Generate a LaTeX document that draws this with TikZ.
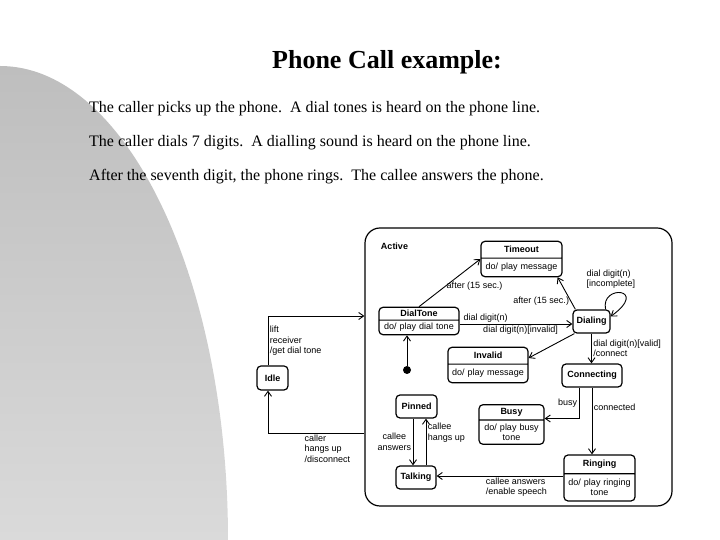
\documentclass[tikz,border=0pt]{standalone}
\usepackage{fontspec}
\setmainfont{Liberation Serif}
\newfontfamily\diagfont{Liberation Sans}
\usepackage{xcolor}
\usepackage{tikz}
\usetikzlibrary{arrows.meta,positioning,shapes.multipart,calc}
\definecolor{SlideGrey} {RGB}{190,190,190}
\definecolor{SlideLight}{RGB}{218,218,218}
\newcommand{\dfont}{\diagfont\fontsize{9}{10.5}\selectfont}
\tikzset{
  statebox/.style={draw, rounded corners=4pt, line width=1.2pt, font=\dfont\bfseries,
    minimum height=23pt, inner sep=2pt},
  actbox/.style={rectangle split, rectangle split parts=2, draw, rounded corners=4pt,
    line width=1.2pt, align=center, font=\dfont, inner xsep=2pt},
  trans/.style={-{Straight Barb[length=5pt,width=7pt]}, line width=0.9pt},
  tlabel/.style={font=\dfont, inner sep=1.5pt},
  bodyline/.style={font=\fontsize{16}{19}\selectfont, anchor=west, inner sep=0pt}
}

\begin{document}
\begin{tikzpicture}[x=1pt, y=1pt]
  \useasboundingbox (0,0) rectangle (720,540);
  \shade[top color=SlideGrey, bottom color=SlideLight]
    (0,0) -- (0,474) arc[start angle=90, end angle=0, x radius=228, y radius=474] -- cycle;

  \node[font=\fontsize{26}{31}\selectfont\bfseries] (title) at (387,478) {Phone Call example:};
  \node[bodyline] (pickup) at (89,431)
    {The caller picks up the phone.\ \ A dial tones is heard on the phone line.};
  \node[bodyline] (dials) at (89,397)
    {The caller dials 7 digits.\ \ A dialling sound is heard on the phone line.};
  \node[bodyline] (rings) at (89,363)
    {After the seventh digit, the phone rings.\ \ The callee answers the phone.};

  \node[draw, rounded corners=15pt, line width=1.2pt, minimum width=307pt,
    minimum height=278pt] (active) at (518.5,173) {};
  \node[tlabel, font=\dfont\bfseries] (activelbl) at (394.5,294) {Active};

  \node[actbox, text width=77pt, inner ysep=4.5pt] (timeout) at (521.5,281)
    {\textbf{Timeout}\nodepart{two}do/ play message};
  \node[actbox, text width=76pt, inner ysep=2.5pt] (dialtone) at (419,219)
    {\textbf{DialTone}\nodepart{two}do/ play dial tone};
  \node[actbox, text width=76pt, inner ysep=4.5pt] (invalid) at (488,175)
    {\textbf{Invalid}\nodepart{two}do/ play message};
  \node[actbox, text width=61pt, inner ysep=3pt] (busy) at (511.5,115.5)
    {\textbf{Busy}\nodepart{two}do/ play busy\\tone};
  \node[actbox, text width=67pt, inner ysep=4.5pt] (ringing) at (599.5,62)
    {\textbf{Ringing}\nodepart{two}do/ play ringing\\tone};

  \node[statebox, minimum width=37pt] (dialing) at (591.5,218.5) {Dialing};
  \node[statebox, minimum width=60pt] (connecting) at (592,164.5) {Connecting};
  \node[statebox, minimum width=41pt] (pinned) at (416.5,133.5) {Pinned};
  \node[statebox, minimum width=40pt] (talking) at (416,62.5) {Talking};
  \node[statebox, minimum width=31pt, minimum height=24pt] (idle) at (272.5,162) {Idle};
  \node[circle, fill, inner sep=0pt, minimum size=8pt] (init) at (407,170) {};

  \draw[trans] (init) -- (init |- dialtone.south);
  \draw[trans] (dialtone.north) -- (timeout.west)
    node[tlabel, pos=0.42, right] {after (15 sec.)};
  \draw[trans] ([xshift=3pt]dialing.north west) -- ([xshift=-5pt]timeout.south east)
    node[tlabel, pos=0.25, left] {after (15 sec.)};
  \draw[trans] ([yshift=-3pt]dialtone.east) coordinate (dtout) -- (dtout -| dialing.west)
    node[tlabel, pos=0.23, above] {dial digit(n)}
    node[tlabel, pos=0.54, below] {dial digit(n)[invalid]};
  \draw[trans] ([xshift=2pt]dialing.south west) -- ([yshift=7pt]invalid.east);
  \draw[trans] ([xshift=-5pt]dialing.north east) .. controls (600,256) and (650,252)
    .. ([yshift=5pt]dialing.east)
    node[tlabel, pos=0.5, anchor=south, xshift=-10pt, yshift=2pt, align=left]
      {dial digit(n)\\{[incomplete]}};
  \draw[trans] (dialing.south) -- (dialing.south |- connecting.north)
    node[tlabel, midway, right, align=left] {dial digit(n)[valid]\\/connect};
  \draw[trans] ([xshift=-13pt]connecting.south) |- ([yshift=6pt]busy.east)
    node[tlabel, pos=0.25, left] {busy};
  \draw[trans] (connecting.south) -- (connecting.south |- ringing.north)
    node[tlabel, pos=0.3, right] {connected};
  \draw[trans] ([yshift=2pt]ringing.west) coordinate (rgout) -- (rgout -| talking.east)
    node[tlabel, pos=0.37, below, align=left] {callee answers\\/enable speech};
  \draw[trans] ([xshift=-3.5pt]pinned.south) coordinate (pnout) -- (pnout |- talking.north)
    node[tlabel, midway, left, align=center] {callee\\answers};
  \draw[trans] ([xshift=10pt]talking.north) coordinate (tkout) -- (tkout |- pinned.south)
    node[tlabel, pos=0.7, right, align=left] {callee\\hangs up};
  \draw[trans] ([xshift=-4.5pt]idle.north) |- ([yshift=51pt]active.west)
    node[tlabel, pos=0.25, right, align=left] {lift\\receiver\\/get dial tone};
  \draw[trans] ([yshift=-66pt]active.west) -| ([xshift=-4.5pt]idle.south)
    node[tlabel, pos=0.32, anchor=north west, align=left] {caller\\hangs up\\/disconnect};
\end{tikzpicture}
\end{document}
